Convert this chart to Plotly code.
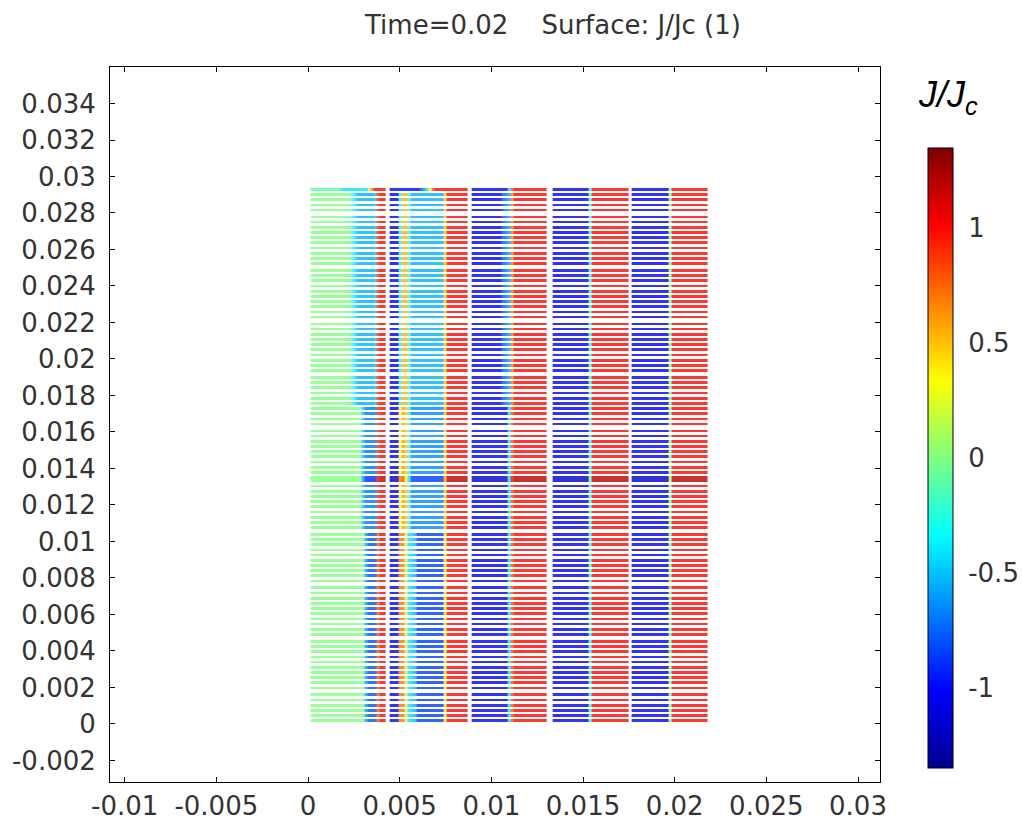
import plotly.graph_objects as go

# ---------------- data ----------------
# x extent of the five tape columns (m)
col_x_start = [0.00014, 0.00444, 0.00891, 0.01334, 0.01767]
col_x_end = [0.00423, 0.00868, 0.01301, 0.01748, 0.02181]

# tape rows: stacks of tapes (bottom -> top); the single one is the thick mid tape
group_sizes = [6, 10, 10, 10, 9, 1, 9, 10, 10, 10, 10, 5]
thick_group = 5
first_row_y = 0.00018
row_pitch = 0.000284
group_pitch = 0.000375
tape_thick = 0.00015

# band limits (y) used to pick a J/Jc profile for each tape
upper_band_y = 0.0175
lower_band_y = 0.0105

# J/Jc profiles across each tape column (left -> right samples)
c1_top = [-0.1, -0.1, -0.1, -0.1, -0.1, -0.1, -0.1, -0.1, -0.1, -0.1, -0.4, -0.4, -0.4,
          -0.4, -0.4, -0.4, -0.4, -0.4, -0.4, 0.2, 0.7, 1.0, 1.0, 1.0, 1.0]
c1_upper = [0, 0, 0, 0, 0, 0, 0, 0, 0, 0, 0, 0, 0, -0.1, -0.35, -0.5, -0.55, -0.55, -0.55,
            -0.55, -0.55, -0.5, 0.9, 1.0, 1.0]
c1_middle = [0, 0, 0, 0, 0, 0, 0, 0, 0, 0, 0, 0, 0, 0, 0, 0, 0, -0.5, -0.7, -0.7, -0.7,
             -0.7, 0.9, 1.0, 1.0]
c1_lower = [0, 0, 0, 0, 0, 0, 0, 0, 0, 0, 0, 0, 0, 0, 0, 0, 0, 0, -0.6, -0.8, -0.8,
            -0.8, 0.8, 1.0, 1.0]
c1_thick = [0, 0, 0, 0, 0, 0, 0, 0, 0, 0, 0, 0, 0, 0, 0, 0, 0, -0.6, -0.9, -0.9, -0.9,
            -0.9, 1.0, 1.2, 1.2]

c2_top = [-1.0, -1.0, -1.0, -1.0, -1.0, -1.0, -1.0, -1.0, -1.0, -1.0, -0.8, -0.6, -0.4,
          0.3, 0.8, 1.0, 1.0, 1.0, 1.0, 1.0, 1.0, 1.0, 1.0, 1.0, 1.0, 1.0]
c2_upper = [-1.05, -1.05, -1.05, -0.3, 0.55, 0.55, -0.2, -0.55, -0.55, -0.55, -0.55,
            -0.55, -0.55, -0.55, -0.55, -0.55, -0.55, -0.55, 0.5, 1.0, 1.0, 1.0, 1.0,
            1.0, 1.0, 1.0]
c2_middle = [-1.05, -1.05, -1.05, 0.3, 0.6, 0.5, -0.2, -0.65, -0.65, -0.65, -0.65,
             -0.65, -0.65, -0.65, -0.65, -0.65, -0.65, -0.65, 0.5, 1.0, 1.0, 1.0, 1.0,
             1.0, 1.0, 1.0]
c2_lower = [-1.05, -1.05, -1.05, 0.7, 0.7, 0.2, -0.4, -0.45, -0.55, -0.85, -0.85,
            -0.85, -0.85, -0.85, -0.85, -0.85, -0.85, -0.85, 0.4, 1.0, 1.0, 1.0, 1.0,
            1.0, 1.0, 1.0]
c2_thick = [-1.2, -1.2, -1.2, 0.7, 0.8, 0.3, -0.4, -0.85, -0.85, -0.85, -0.85,
            -0.85, -0.85, -0.85, -0.85, -0.85, -0.85, -0.85, 0.6, 1.2, 1.2, 1.2,
            1.2, 1.2, 1.2, 1.2]

c3_upper = [-1.05, -1.05, -1.05, -1.05, -1.05, -1.05, -1.05, -1.05, -1.05, -1.05, -0.8,
            -0.7, -0.6, 0.7, 1.0, 1.0, 1.0, 1.0, 1.0, 1.0, 1.0, 1.0, 1.0, 1.0, 1.0]
c3_lower = [-1.05, -1.05, -1.05, -1.05, -1.05, -1.05, -1.05, -1.05, -1.05, -1.05, -1.05,
            -1.05, -0.4, 0.8, 1.0, 1.0, 1.0, 1.0, 1.0, 1.0, 1.0, 1.0, 1.0, 1.0, 1.0]
c3_thick = [-1.2, -1.2, -1.2, -1.2, -1.2, -1.2, -1.2, -1.2, -1.2, -1.2, -1.2,
            -1.2, -0.4, 1.0, 1.2, 1.2, 1.2, 1.2, 1.2, 1.2, 1.2, 1.2, 1.2,
            1.2, 1.2]

c4_all = [-1.05, -1.05, -1.05, -1.05, -1.05, -1.05, -1.05, -1.05, -1.05, -1.05, -1.05,
          -1.05, -0.2, 1.0, 1.0, 1.0, 1.0, 1.0, 1.0, 1.0, 1.0, 1.0, 1.0, 1.0, 1.0]
c4_thick = [-1.2, -1.2, -1.2, -1.2, -1.2, -1.2, -1.2, -1.2, -1.2, -1.2, -1.2,
            -1.2, -0.1, 1.2, 1.2, 1.2, 1.2, 1.2, 1.2, 1.2, 1.2, 1.2, 1.2,
            1.2, 1.2]

c5_all = [-1.05, -1.05, -1.05, -1.05, -1.05, -1.05, -1.05, -1.05, -1.05, -1.05, -1.05,
          -1.05, 0.0, 1.0, 1.0, 1.0, 1.0, 1.0, 1.0, 1.0, 1.0, 1.0, 1.0, 1.0, 1.0]
c5_thick = [-1.2, -1.2, -1.2, -1.2, -1.2, -1.2, -1.2, -1.2, -1.2, -1.2, -1.2,
            -1.2, 0.1, 1.2, 1.2, 1.2, 1.2, 1.2, 1.2, 1.2, 1.2, 1.2, 1.2,
            1.2, 1.2]

profiles_top = [c1_top, c2_top, c3_lower, c4_all, c5_all]
profiles_upper = [c1_upper, c2_upper, c3_upper, c4_all, c5_all]
profiles_middle = [c1_middle, c2_middle, c3_lower, c4_all, c5_all]
profiles_lower = [c1_lower, c2_lower, c3_lower, c4_all, c5_all]
profiles_thick = [c1_thick, c2_thick, c3_thick, c4_thick, c5_thick]

x_tick_vals = [-0.01, -0.005, 0, 0.005, 0.01, 0.015, 0.02, 0.025, 0.03]
x_tick_text = ["-0.01", "-0.005", "0", "0.005", "0.01", "0.015", "0.02", "0.025", "0.03"]
y_tick_vals = [-0.002, 0, 0.002, 0.004, 0.006, 0.008, 0.01, 0.012, 0.014, 0.016, 0.018,
               0.02, 0.022, 0.024, 0.026, 0.028, 0.03, 0.032, 0.034]
y_tick_text = ["-0.002", "0", "0.002", "0.004", "0.006", "0.008", "0.01", "0.012", "0.014",
               "0.016", "0.018", "0.02", "0.022", "0.024", "0.026", "0.028", "0.03",
               "0.032", "0.034"]
cb_tick_vals = [-1, -0.5, 0, 0.5, 1]
cb_tick_text = ["-1", "-0.5", "0", "0.5", "1"]

# ---------------- build the surface grid ----------------
nan = float("nan")

# x cells: tape samples per column, NaN gap cells between the columns
x_edges = []
x_src = []  # (column, sample) or None for a gap cell
for c in range(len(col_x_start)):
    n = len(profiles_upper[c])
    w = (col_x_end[c] - col_x_start[c]) / n
    if c > 0:
        x_src.append(None)  # gap cell: previous column end -> this column start
    x_edges.append(col_x_start[c])
    for k in range(n):
        x_edges.append(col_x_start[c] + (k + 1) * w)
        x_src.append((c, k))

# y rows
rows = []  # (center, thickness, band)
yc = first_row_y
n_rows_total = sum(group_sizes)
idx = 0
for g, size in enumerate(group_sizes):
    if g > 0:
        yc += group_pitch - row_pitch
    for r in range(size):
        idx += 1
        th = tape_thick
        if g == thick_group:
            band = "thick"
            th = tape_thick * 2
        elif idx == n_rows_total:
            band = "top"
        elif yc > upper_band_y:
            band = "upper"
        elif yc > lower_band_y:
            band = "middle"
        else:
            band = "lower"
        rows.append((yc, th, band))
        yc += row_pitch

band_profiles = {"top": profiles_top, "upper": profiles_upper, "middle": profiles_middle,
                 "lower": profiles_lower, "thick": profiles_thick}

y_edges = []
z = []
for i, (c_y, th, band) in enumerate(rows):
    if i > 0:
        z.append([nan] * len(x_src))  # gap row
    y_edges.append(c_y - th / 2)
    y_edges.append(c_y + th / 2)
    prof = band_profiles[band]
    z.append([nan if s is None else prof[s[0]][s[1]] for s in x_src])

jet = [[0.0, "rgb(0,0,143)"], [0.125, "rgb(0,0,255)"], [0.375, "rgb(0,255,255)"],
       [0.625, "rgb(255,255,0)"], [0.875, "rgb(255,0,0)"], [1.0, "rgb(128,0,0)"]]

font_family = "DejaVu Sans, Verdana, sans-serif"
tick_color = "#333333"

L, R, T, B = 110, 142, 67, 38
W, H = 1022, 820
pw, ph = W - L - R, H - T - B

fig = go.Figure()
fig.add_trace(go.Heatmap(
    x=x_edges, y=y_edges, z=z,
    colorscale=jet, zmin=-1.35, zmax=1.35,
    opacity=0.8, hoverongaps=False,
    colorbar=dict(
        x=(928 - L) / pw, xanchor="left", xpad=0,
        y=(782 - 458) / ph, yanchor="middle", ypad=0,
        len=620 / ph, lenmode="fraction", thickness=25, thicknessmode="pixels",
        outlinewidth=1, outlinecolor="black",
        tickmode="array", tickvals=cb_tick_vals, ticktext=cb_tick_text,
        ticks="outside", ticklen=10, tickcolor="rgba(0,0,0,0)",
        tickfont=dict(family=font_family, size=26, color=tick_color),
    ),
))

axis_common = dict(
    showline=True, linecolor="black", linewidth=1, mirror="ticks",
    ticks="inside", ticklen=5, tickcolor="black", tickwidth=1,
    showgrid=False, zeroline=False, automargin=False,
    tickfont=dict(family=font_family, size=26, color=tick_color),
)

fig.update_layout(
    width=W, height=H,
    margin=dict(l=L, r=R, t=T, b=B, autoexpand=False),
    paper_bgcolor="white", plot_bgcolor="white",
    title=dict(text="Time=0.02\u00a0\u00a0\u00a0\u00a0Surface: J/Jc (1)",
               x=553 / W, xref="container", xanchor="center",
               y=1 - 25 / H, yref="container", yanchor="middle",
               font=dict(family=font_family, size=26, color=tick_color)),
    xaxis=dict(range=[-0.0108, 0.0312], tickmode="array", tickvals=x_tick_vals,
               ticktext=x_tick_text, ticklabelstandoff=1, **axis_common),
    yaxis=dict(range=[-0.00318, 0.036], tickmode="array", tickvals=y_tick_vals,
               ticktext=y_tick_text, ticklabelstandoff=8, **axis_common),
    annotations=[dict(
        text="<i>J/J<sub>c</sub></i>", xref="paper", yref="paper",
        x=(948 - L) / pw, y=(782 - 97) / ph, xanchor="center", yanchor="middle",
        showarrow=False,
        font=dict(family="Liberation Sans, Arial, sans-serif", size=36, color="black"),
    )],
)

fig.write_html("out.html")
